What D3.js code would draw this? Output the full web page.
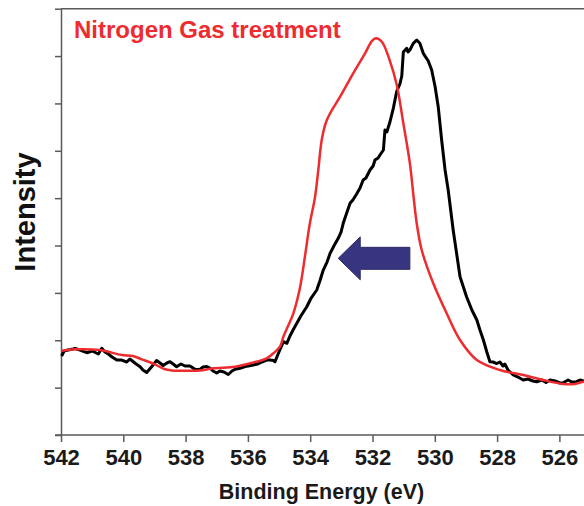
<!DOCTYPE html>
<html><head><meta charset="utf-8">
<script src="https://cdn.jsdelivr.net/npm/d3@7"></script>
<style>html,body{margin:0;padding:0;background:#fff;}svg{display:block;}</style>
</head><body><svg id="chart" width="584" height="506"></svg>
<script>
const title = "Nitrogen Gas treatment";
const xLabel = "Binding Energy (eV)";
const yLabel = "Intensity";
const xTicks = [542, 540, 538, 536, 534, 532, 530, 528, 526];
const yTicks = [0, 1, 2, 3, 4, 5, 6, 7, 8, 9];

const redEnergy = [541.98,541.55,540.75,540.05,539.69,539.41,539.05,538.66,538.34,537.96,537.54,537.12,536.41,535.93,535.40,535.18,534.97,534.86,534.71,534.54,534.33,534.17,534.01,533.85,533.74,533.63,533.49,533.36,533.04,532.62,532.24,532.02,531.89,531.70,531.44,531.22,531.01,530.80,530.67,530.58,530.42,530.05,529.62,529.19,528.65,527.91,527.16,526.52,525.88,525.50,525.21];
const redIntensity = [1.780,1.809,1.794,1.689,1.668,1.598,1.514,1.387,1.357,1.357,1.362,1.408,1.442,1.514,1.619,1.725,1.864,2.075,2.301,2.569,3.103,3.764,4.469,5.003,5.594,6.228,6.608,6.791,7.142,7.636,8.058,8.317,8.375,8.303,7.895,7.389,6.580,5.736,4.961,4.469,3.905,3.202,2.569,2.005,1.583,1.372,1.267,1.161,1.077,1.077,1.129];

const blackEnergy = [541.98,541.90,541.77,541.61,541.55,541.39,541.17,541.00,540.80,540.69,540.59,540.48,540.36,540.21,540.05,539.89,539.79,539.62,539.46,539.37,539.25,539.09,538.93,538.82,538.72,538.60,538.50,538.40,538.29,538.15,538.02,537.86,537.70,537.54,537.44,537.32,537.22,537.12,537.00,536.90,536.77,536.63,536.51,536.41,536.25,536.09,535.99,535.83,535.68,535.55,535.40,535.29,535.18,535.13,535.03,534.86,534.75,534.65,534.55,534.43,534.30,534.11,533.97,533.79,533.69,533.58,533.46,533.36,533.24,533.10,533.01,532.94,532.85,532.72,532.63,532.51,532.40,532.30,532.21,532.08,531.98,531.92,531.82,531.76,531.65,531.60,531.54,531.44,531.33,531.22,531.12,531.06,531.01,530.90,530.86,530.80,530.69,530.58,530.48,530.37,530.21,530.10,529.99,529.89,529.78,529.67,529.57,529.41,529.19,528.98,528.81,528.65,528.55,528.44,528.33,528.23,528.13,528.01,527.91,527.81,527.75,527.65,527.48,527.33,527.16,527.01,526.85,526.73,526.56,526.43,526.30,526.14,525.98,525.88,525.72,525.60,525.45,525.34,525.21];
const blackIntensity = [1.668,1.773,1.794,1.815,1.826,1.794,1.737,1.773,1.710,1.830,1.752,1.710,1.647,1.583,1.583,1.541,1.604,1.514,1.442,1.372,1.319,1.442,1.573,1.520,1.467,1.520,1.547,1.499,1.442,1.499,1.457,1.457,1.387,1.383,1.436,1.446,1.414,1.351,1.309,1.351,1.330,1.277,1.351,1.387,1.408,1.446,1.457,1.478,1.499,1.541,1.583,1.583,1.573,1.547,1.710,1.970,1.936,2.090,2.217,2.358,2.512,2.708,2.892,3.061,3.251,3.483,3.652,3.836,3.990,4.152,4.285,4.469,4.644,4.891,4.961,5.088,5.214,5.383,5.425,5.594,5.679,5.805,5.848,5.911,6.017,6.439,6.397,6.608,6.903,7.262,7.410,7.579,8.085,8.163,8.085,8.128,8.269,8.339,8.269,8.058,7.895,7.705,7.353,6.931,6.228,5.594,5.172,4.328,3.342,2.920,2.639,2.428,2.217,2.005,1.752,1.547,1.541,1.509,1.541,1.457,1.499,1.372,1.267,1.224,1.161,1.182,1.140,1.125,1.161,1.108,1.161,1.140,1.098,1.104,1.161,1.119,1.125,1.161,1.140];

// arrow indicating shift (data coords: from/to energy, level)
const arrowFrom = 530.80, arrowTo = 533.10, arrowLevel = 3.73;

const svg = d3.select("#chart");
const W = 584, H = 506;
const m = {left: 61, right: 0, top: 8.7, bottom: 71};
const x = d3.scaleLinear().domain([542, 525.21]).range([m.left, W - m.right]);
const y = d3.scaleLinear().domain([0, 9]).range([H - m.bottom, m.top]);

const axisColor = "#5a5a5a";

// top border
svg.append("line").attr("x1", m.left).attr("x2", W).attr("y1", y(9)).attr("y2", y(9))
  .attr("stroke", axisColor).attr("stroke-width", 1.5);

// x axis
const gx = svg.append("g").attr("transform", `translate(0,${y(0)})`)
  .call(d3.axisBottom(x).tickValues(xTicks).tickSize(7).tickSizeOuter(0).tickPadding(7));
gx.select(".domain").attr("stroke", axisColor).attr("stroke-width", 1.5).attr("d", `M${m.left - 6},0H${W}`);
gx.selectAll(".tick line").attr("stroke", axisColor).attr("stroke-width", 1.5);
gx.selectAll(".tick text").attr("fill", "#1a1a1a").style("font-family", "Liberation Sans, Arial, sans-serif")
  .style("font-weight", "bold").style("font-size", "22px");

// y axis
const gy = svg.append("g").attr("transform", `translate(${m.left},0)`)
  .call(d3.axisLeft(y).tickValues(yTicks).tickSize(6).tickSizeOuter(0).tickFormat(""));
gy.select(".domain").attr("stroke", axisColor).attr("stroke-width", 1.5);
gy.selectAll(".tick line").attr("stroke", axisColor).attr("stroke-width", 1.5);

// axis titles
svg.append("text").attr("x", (m.left + W) / 2 - 1).attr("y", 499).attr("text-anchor", "middle")
  .style("font-family", "Liberation Sans, Arial, sans-serif").style("font-weight", "bold").style("font-size", "21.5px")
  .attr("fill", "#1a1a1a").text(xLabel);
svg.append("text").attr("transform", "translate(35,212) rotate(-90)").attr("text-anchor", "middle")
  .style("font-family", "Liberation Sans, Arial, sans-serif").style("font-weight", "bold").style("font-size", "29px")
  .attr("fill", "#111").text(yLabel);

// title
svg.append("text").attr("x", 74).attr("y", 38).style("font-family", "Liberation Sans, Arial, sans-serif")
  .style("font-weight", "bold").style("font-size", "24px").attr("fill", "#ee2b2e").text(title);

// lines
const redData = redEnergy.map((e, i) => [e, redIntensity[i]]);
const blackData = blackEnergy.map((e, i) => [e, blackIntensity[i]]);

svg.append("path").datum(blackData).attr("fill", "none").attr("stroke", "#000").attr("stroke-width", 3)
  .attr("stroke-linejoin", "round")
  .attr("d", d3.line().x(d => x(d[0])).y(d => y(d[1])));
svg.append("path").datum(redData).attr("fill", "none").attr("stroke", "#ee2b2e").attr("stroke-width", 2.5)
  .attr("d", d3.line().curve(d3.curveCatmullRom.alpha(0.5)).x(d => x(d[0])).y(d => y(d[1])));

// arrow
const ax0 = x(arrowFrom), ax1 = x(arrowTo), ay = y(arrowLevel);
const headLen = 22, shaftHalf = 11, headHalf = 21.5;
const pts = [[ax1, ay], [ax1 + headLen, ay - headHalf], [ax1 + headLen, ay - shaftHalf], [ax0, ay - shaftHalf],
  [ax0, ay + shaftHalf], [ax1 + headLen, ay + shaftHalf], [ax1 + headLen, ay + headHalf]];
svg.append("polygon").attr("points", pts.map(p => p.join(",")).join(" "))
  .attr("fill", "#383580").attr("stroke", "#2c2a66").attr("stroke-width", 1);
</script></body></html>
